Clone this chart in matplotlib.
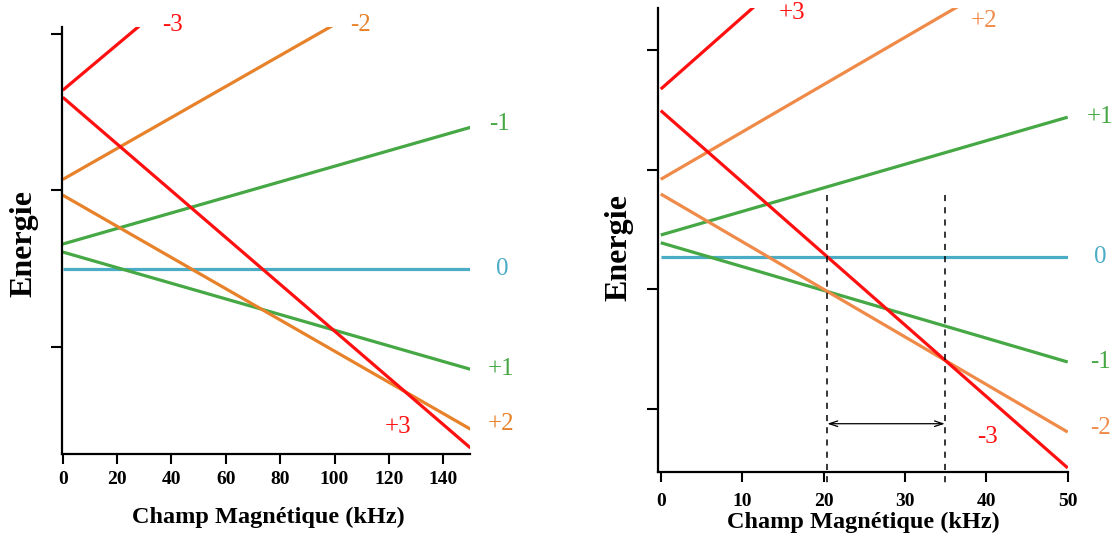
import matplotlib.pyplot as plt

plt.rcParams["font.family"] = ["Liberation Serif", "DejaVu Serif"]

# Zeeman levels, energy (arb. units) at both ends of the field sweep
left_field = [0, 150]
left_m = ["-3", "-2", "-1", "0", "+1", "+2", "+3"]
left_e_start = [2.28, 1.14, 0.315, 0.0, 0.213, 0.94, 2.19]
left_e_end = [6.65, 4.11, 1.806, 0.0, -1.285, -2.05, -2.29]

right_field = [0, 50]
right_m = ["+3", "+2", "+1", "0", "-1", "-2", "-3"]
right_e_start = [2.81, 1.30, 0.368, 0.0, 0.239, 1.054, 2.45]
right_e_end = [8.82, 5.26, 2.34, 0.0, -1.757, -2.93, -3.53]

# crossing fields marked on the right panel
crossings = [20.47, 34.9]

RED = "#ff1010"
GREEN = "#46a845"
CYAN = "#4bacc6"
left_colors = [RED, "#e8822a", GREEN, CYAN, GREEN, "#e8822a", RED]
right_colors = [RED, "#ef8a48", GREEN, CYAN, GREEN, "#ef8a48", RED]

# label anchors (data coords) for each level name
left_label_pos = [(40.3, 3.11), (109.5, 3.11), (160.7, 1.855), (161.6, 0.0),
                  (161.4, -1.28), (161.4, -1.98), (123.3, -2.02)]
right_label_pos = [(16.1, 4.08), (39.7, 3.95), (54.0, 2.34), (54.0, 0.0),
                   (54.0, -1.757), (54.0, -2.86), (40.2, -3.01)]


def style_axes(ax, xticks, yticks, pad):
    ax.spines["top"].set_visible(False)
    ax.spines["right"].set_visible(False)
    ax.spines["left"].set_linewidth(1.6)
    ax.spines["bottom"].set_linewidth(1.6)
    ax.set_xticks(xticks)
    ax.set_yticks(yticks)
    ax.set_yticklabels([])
    ax.tick_params(axis="y", direction="out", length=8, width=1.5)
    ax.tick_params(axis="x", direction="out", length=7, width=1.5, pad=pad)
    for lab in ax.get_xticklabels():
        lab.set_fontweight("bold")
        lab.set_fontsize(14)
    ax.set_xlabel("Champ Magnétique (kHz)", fontsize=17.5, fontweight="bold")
    ax.set_ylabel("Energie", fontsize=23, fontweight="bold")


def draw_levels(ax, field, e_start, e_end, colors, names, label_pos):
    for e0, e1, c, name, pos in zip(e_start, e_end, colors, names, label_pos):
        ax.plot(field, [e0, e1], color=c, lw=2.3, solid_capstyle="butt")
        ax.text(pos[0], pos[1], name, color=c, fontsize=18,
                ha="center", va="center", clip_on=False)


fig = plt.figure(figsize=(11.13, 5.37), dpi=100)

ax1 = fig.add_axes([0.0554, 0.1546, 0.3673, 0.795])
draw_levels(ax1, left_field, left_e_start, left_e_end, left_colors, left_m, left_label_pos)
ax1.set_xlim(-0.4, 150)
ax1.set_ylim(-2.367, 3.087)
style_axes(ax1, range(0, 141, 20), [-1, 1, 3], pad=5)
ax1.xaxis.set_label_coords(0.505, -0.124)
ax1.yaxis.set_label_coords(-0.058, 0.492)

ax2 = fig.add_axes([0.5915, 0.1205, 0.3678, 0.8646])
draw_levels(ax2, right_field, right_e_start, right_e_end, right_colors, right_m, right_label_pos)
ax2.set_xlim(-0.3, 50)
ax2.set_ylim(-3.603, 4.167)
style_axes(ax2, range(0, 51, 10), [-2.544, -0.536, 1.456, 3.464], pad=8)
ax2.xaxis.set_label_coords(0.5, -0.085)
ax2.yaxis.set_label_coords(-0.062, 0.485)

for xc in crossings:
    ax2.plot([xc, xc], [1.04, -3.82], color="black", lw=1.1,
             linestyle=(0, (4, 4)), clip_on=False)
ax2.annotate("", xy=(crossings[1], -2.79), xytext=(crossings[0], -2.79),
             arrowprops=dict(arrowstyle="<->,head_length=0.6,head_width=0.2",
                             color="black", lw=0.9, shrinkA=0, shrinkB=0))

fig.savefig("out.png", dpi=100)
